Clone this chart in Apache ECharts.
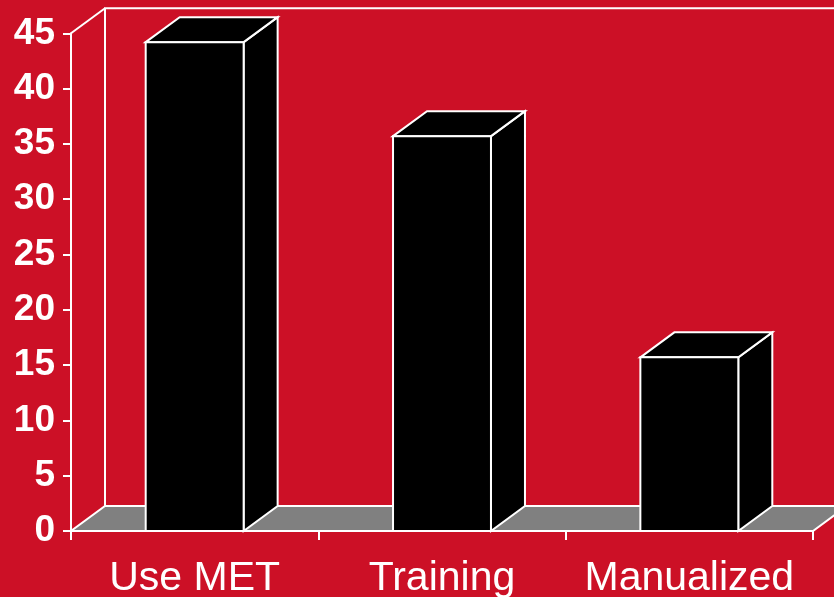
<!DOCTYPE html>
<html>
<head>
<meta charset="utf-8">
<script src="https://cdn.jsdelivr.net/npm/echarts@6/dist/echarts.min.js"></script>
<style>
  html, body { margin: 0; padding: 0; background: #CC1026; }
  #chart { width: 834px; height: 597px; }
</style>
</head>
<body>
<div id="chart"></div>
<script>
// Survey results per practice
const categories = ['Use MET', 'Training', 'Manualized'];
const values = [44.2, 35.7, 15.7];

// Value axis range
const yMin = 0;
const yMax = 45;
const yStep = 5;

// Pseudo-3D depth offset (pixels) and colours
const DX = 34;
const DY = 25;
const BG = '#CC1026';
const FLOOR = '#808080';
const EDGE = '#ffffff';
const FONT = '"Liberation Sans", Arial, Helvetica, sans-serif';

const chart = echarts.init(document.getElementById('chart'), null, { renderer: 'canvas' });

// Back wall, side wall edge and grey floor of the 3D box
function renderFrame(params, api) {
  const cs = params.coordSys;
  const L = cs.x, R = cs.x + cs.width, T = cs.y, B = cs.y + cs.height;
  const line = { stroke: EDGE, lineWidth: 2, fill: null };
  return {
    type: 'group',
    children: [
      { type: 'polyline', shape: { points: [[L + DX, B - DY], [L + DX, T - DY], [R + DX + 40, T - DY]] }, style: line },
      { type: 'polygon', shape: { points: [[L, B], [R, B], [R + DX, B - DY], [L + DX, B - DY]] },
        style: { fill: FLOOR, stroke: EDGE, lineWidth: 2, lineJoin: 'miter' } },
      { type: 'line', shape: { x1: L, y1: T, x2: L + DX, y2: T - DY }, style: line }
    ]
  };
}

// Box-shaped column: side face, top face, then front face
function renderBar(params, api) {
  const idx = api.value(0);
  const top = api.coord([idx, api.value(1)]);
  const base = api.coord([idx, 0]);
  const bw = api.size([1, 0])[0] * 0.396;
  const x0 = top[0] - bw / 2, x1 = top[0] + bw / 2;
  const yT = top[1], yB = base[1];
  const style = { fill: '#000000', stroke: EDGE, lineWidth: 2, lineJoin: 'miter' };
  return {
    type: 'group',
    children: [
      { type: 'polygon', shape: { points: [[x1, yT], [x1 + DX, yT - DY], [x1 + DX, yB - DY], [x1, yB]] }, style: style },
      { type: 'polygon', shape: { points: [[x0, yT], [x0 + DX, yT - DY], [x1 + DX, yT - DY], [x1, yT]] }, style: style },
      { type: 'rect', shape: { x: x0, y: yT, width: bw, height: yB - yT }, style: style }
    ]
  };
}

chart.setOption({
  backgroundColor: BG,
  animation: false,
  grid: { left: 71, right: 21, top: 33.3, bottom: 66, containLabel: false, outerBoundsMode: 'none' },
  xAxis: {
    type: 'category',
    data: categories,
    z: 5,
    axisLine: { show: true, lineStyle: { color: EDGE, width: 2 } },
    axisTick: { show: true, length: 9, lineStyle: { color: EDGE, width: 2 } },
    axisLabel: {
      color: '#ffffff', fontSize: 41, fontFamily: FONT, margin: 27,
      interval: 0, hideOverlap: false
    },
    splitLine: { show: false }
  },
  yAxis: {
    type: 'value',
    min: yMin,
    max: yMax,
    interval: yStep,
    z: 5,
    axisLine: { show: true, lineStyle: { color: EDGE, width: 2 } },
    axisTick: { show: true, length: 8, lineStyle: { color: EDGE, width: 2 } },
    axisLabel: { color: '#ffffff', fontSize: 37, fontWeight: 'bold', fontFamily: FONT, margin: 16 },
    splitLine: { show: false }
  },
  series: [
    {
      type: 'custom',
      name: 'frame',
      z: 1,
      silent: true,
      renderItem: renderFrame,
      data: [[0, 0]]
    },
    {
      type: 'custom',
      name: 'values',
      z: 3,
      renderItem: renderBar,
      encode: { x: 0, y: 1 },
      data: categories.map((c, i) => [i, values[i]])
    }
  ]
});
</script>
</body>
</html>
